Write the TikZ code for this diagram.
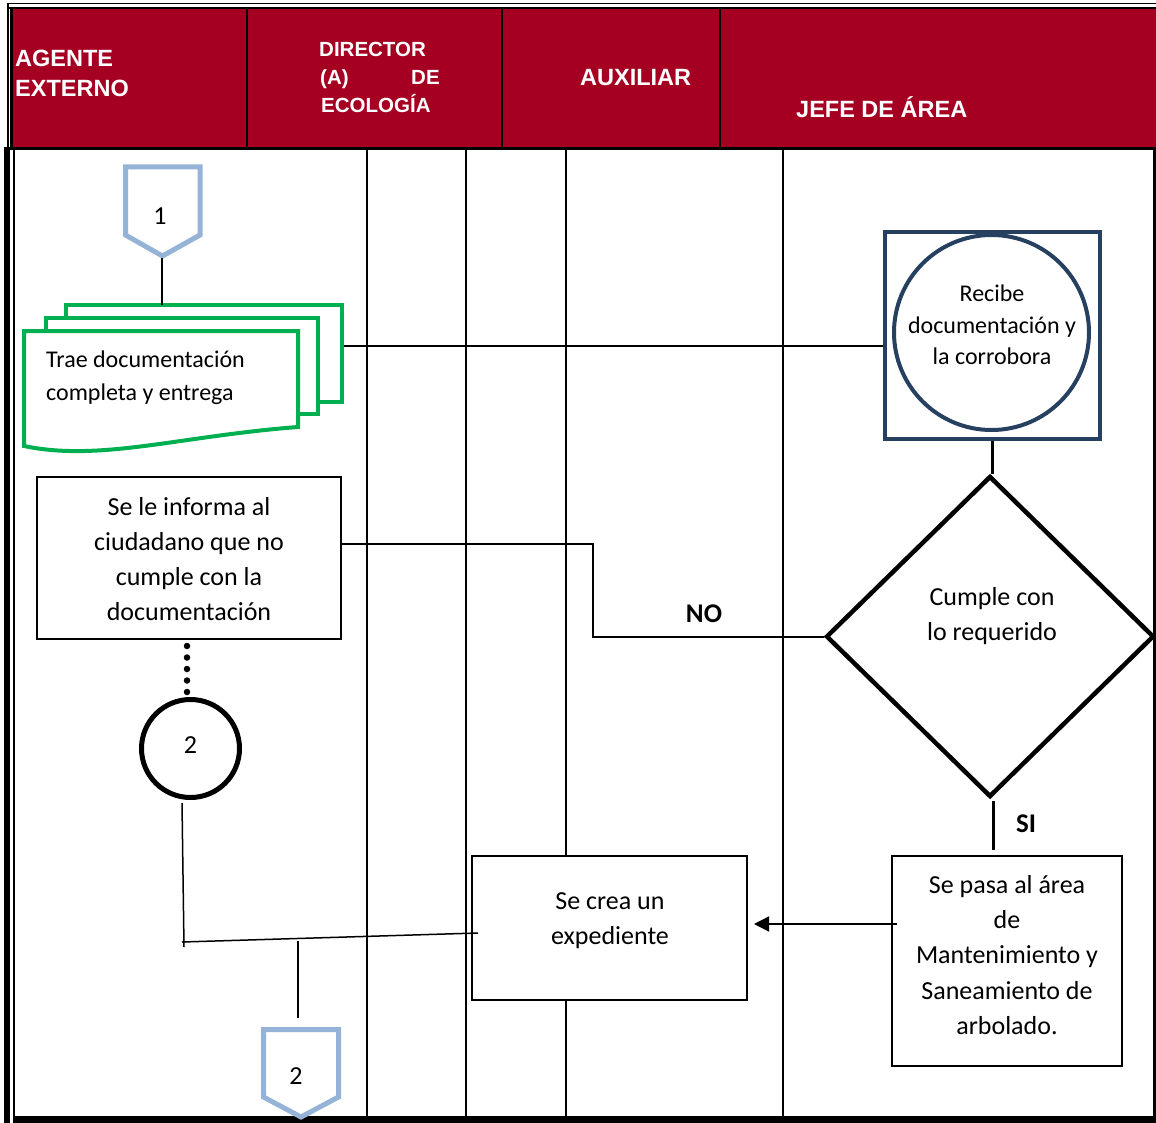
\documentclass[tikz,border=0pt]{standalone}
\usepackage{fontspec}
\setmainfont{Carlito}
\newfontfamily\hdrfont{Liberation Sans}
\usetikzlibrary{shapes.geometric,arrows.meta}
\definecolor{hred}{RGB}{165,0,33}
\definecolor{offblue}{RGB}{149,179,215}
\definecolor{docgreen}{RGB}{0,176,80}
\definecolor{navy}{RGB}{38,64,96}
\begin{document}
\begin{tikzpicture}[x=1pt,y=-1pt,
  hdr/.style={text=white,font=\hdrfont\bfseries\fontsize{23.5}{28}\selectfont,inner sep=0pt,anchor=base west},
  lane/.style={line width=2pt},
  pbox/.style={draw,line width=2.5pt,fill=white,rectangle,inner sep=0pt},
  txt/.style={font=\fontsize{26}{35}\selectfont,align=center,inner sep=0pt},
  conn/.style={line width=2pt},
  offpage/.style={draw=offblue,line width=5pt,fill=white,line join=miter}
]
\useasboundingbox (0,0) rectangle (1156,1123);
% ---------- header ----------
\fill[hred] (11,9) rectangle (1156,148);
\draw[line width=1.5pt] (7,3.5) -- (1156,3.5);
\draw[line width=2.5pt] (7,8) -- (1156,8);
\draw[line width=1.5pt] (8,3) -- (8,150);
\draw[line width=3pt] (11.5,7) -- (11.5,150);
\draw[line width=3pt] (4,149) -- (1156,149);
\foreach \x in {247,502,720} \draw[line width=2.5pt] (\x,9) -- (\x,148);
\node[hdr] (h1a) at (15,67) {AGENTE};
\node[hdr] (h1b) at (15,97) {EXTERNO};
\node[hdr,font=\hdrfont\bfseries\fontsize{20.5}{28}\selectfont] (h2a) at (319,57) {DIRECTOR};
\node[hdr,font=\hdrfont\bfseries\fontsize{20.5}{28}\selectfont] (h2b) at (320,85) {(A)};
\node[hdr,font=\hdrfont\bfseries\fontsize{20.5}{28}\selectfont] (h2c) at (411,85) {DE};
\node[hdr,font=\hdrfont\bfseries\fontsize{20.5}{28}\selectfont] (h2d) at (321,113) {ECOLOGÍA};
\node[hdr] (h3) at (580,86) {AUXILIAR};
\node[hdr] (h4) at (796,118) {JEFE DE ÁREA};
% ---------- body frame ----------
\fill (4,150) rectangle (10,1123);
\draw[line width=2pt] (14,150) -- (14,1116);
\fill (13,1116) rectangle (1156,1123);
\fill (1153,150) rectangle (1156,1123);
\foreach \x in {367,466,566,783} \draw[lane] (\x,150) -- (\x,1116);
% ---------- off-page connector 1 ----------
\draw[offpage] (125.5,167) -- (200,167) -- (200,235) -- (162.5,256) -- (125.5,235) -- cycle;
\node[font=\fontsize{26}{30}\selectfont] (c1) at (160,216) {1};
\coordinate (c1b) at (162,258);
% ---------- multi-document ----------
\draw[docgreen,line width=4pt,fill=white] (66,305) rectangle (342,402);
\draw[docgreen,line width=4pt,fill=white] (46,318) rectangle (318,414);
\draw[docgreen,line width=4pt,fill=white] (24,331) -- (298,331) -- (298,427)
   .. controls (180,436) and (100,462) .. (24,446) -- cycle;
\node[font=\fontsize{24}{33}\selectfont,align=left,anchor=west,inner sep=0pt] (doc) at (46,378) {Trae documentación\\completa y entrega};
\coordinate (docTop) at (162,305);
\coordinate (docR) at (344,346);
\draw[conn] (c1b) -- (docTop);
% ---------- Recibe ----------
\node[draw=navy,line width=4pt,fill=white,minimum width=215.5,minimum height=206.5,inner sep=0pt] (sq) at (992.25,335.75) {};
\node[draw=navy,line width=4pt,circle,minimum size=195,inner sep=0pt] (rc) at (991.5,332.5) {};
\node[font=\fontsize{24}{31.5}\selectfont,align=center,inner sep=0pt] (rct) at (992,325) {Recibe\\documentación y\\la corrobora};
\draw[conn] (docR) -- (docR -| sq.west);
% ---------- decision ----------
\node[diamond,draw,line width=4.5pt,minimum width=328,minimum height=321,inner sep=0pt] (dia) at (990,636.5) {};
\node[txt] (diat) at (992,616.5) {Cumple con\\lo requerido};
\draw[line width=2.5pt] (sq.south) -- (sq.south |- dia.north);
% ---------- informa ----------
\node[pbox,minimum width=304,minimum height=162] (inf) at (189,558) {};
\node[txt] (inft) at (189,559) {Se le informa al\\ciudadano que no\\cumple con la\\documentación};
\coordinate (noc) at (593,544);
\draw[conn] (dia.west) -| (noc) -- (noc -| inf.east);
\node[font=\bfseries\fontsize{27}{30}\selectfont,inner sep=0pt] (nol) at (704,614) {NO};
% ---------- circle 2 ----------
\node[circle,draw,line width=5pt,minimum size=98,inner sep=0pt,fill=white] (c2) at (190.5,748.5) {};
\node[font=\fontsize{26}{30}\selectfont] (c2t) at (190.5,745) {2};
\coordinate (dotA) at (187,646);
\coordinate (dotB) at (187,692);
\draw[line width=6.5pt,line cap=round,dash pattern=on 0pt off 11.5pt] (dotA) -- (dotB);
% ---------- Se pasa ----------
\node[pbox,minimum width=230,minimum height=210] (pasa) at (1007,961) {};
\node[txt,font=\fontsize{26}{35.3}\selectfont] (pasat) at (1007,955) {Se pasa al área\\de\\Mantenimiento y\\Saneamiento de\\arbolado.};
\coordinate (siA) at (993,801);
\coordinate (siB) at (993,850);
\draw[line width=3pt] (siA) -- (siB);
\node[font=\bfseries\fontsize{27}{30}\selectfont,inner sep=0pt] (sil) at (1026,824) {SI};
% ---------- Se crea ----------
\node[pbox,minimum width=275,minimum height=144] (crea) at (609.5,928) {};
\node[txt] (creat) at (610,921) {Se crea un\\expediente};
\coordinate (arrS) at (897,924);
\coordinate (arrE) at (754,924);
\draw[line width=1.5pt,-{Triangle[length=15pt,width=15pt]}] (arrS) -- (arrE);
% ---------- lower connectors ----------
\coordinate (t1) at (182,803);
\coordinate (t2) at (184,947);
\coordinate (t3) at (182,942);
\coordinate (t4) at (478,933);
\draw[line width=1.5pt] (t1) -- (t2);
\draw[line width=1.5pt] (t3) -- (t4);
\coordinate (d1) at (298,941);
\coordinate (d2) at (298,1018);
\draw[line width=2.5pt] (d1) -- (d2);
% ---------- off-page connector 2 ----------
\draw[offpage] (263.5,1029.5) -- (338.5,1029.5) -- (338.5,1097) -- (301,1117) -- (263.5,1097) -- cycle;
\node[font=\fontsize{26}{30}\selectfont] (c3) at (296,1076) {2};
\end{tikzpicture}
\end{document}
